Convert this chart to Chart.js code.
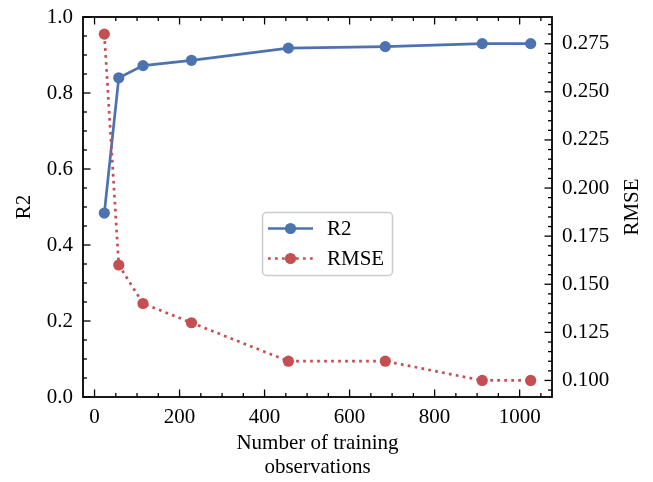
<!DOCTYPE html>
<html>
<head>
<meta charset="utf-8">
<script src="https://cdn.jsdelivr.net/npm/chart.js@4.4.1/dist/chart.umd.min.js"></script>
<style>
  html, body { margin: 0; padding: 0; background: #ffffff; }
  #wrap { width: 653px; height: 482px; }
</style>
</head>
<body>
<div id="wrap"><canvas id="c" width="653" height="482"></canvas></div>
<script>
// ---- data ----
const trainingSizes = [23, 57, 114, 228, 456, 684, 912, 1026];
const r2Values      = [0.484, 0.840, 0.872, 0.886, 0.918, 0.922, 0.930, 0.930];
const rmseValues    = [0.280, 0.160, 0.140, 0.130, 0.110, 0.110, 0.100, 0.100];
const seriesLabels  = ['R2', 'RMSE'];
const xTitle        = ['Number of training', 'observations'];
const yLeftTitle    = 'R2';
const yRightTitle   = 'RMSE';

const FONT = "'Liberation Serif', 'Times New Roman', serif";
const FS = 21;
const BLUE = '#4C72B0';
const RED = '#C44E52';

const toPts = (xs, ys) => xs.map((x, i) => ({ x: x, y: ys[i] }));

// inward ticks + frame
const framePlugin = {
  id: 'frame',
  afterDraw(chart) {
    const ctx = chart.ctx;
    const a = chart.chartArea;
    const sx = chart.scales.x, sy = chart.scales.y, sy2 = chart.scales.y2;
    ctx.save();
    ctx.strokeStyle = '#000';
    const MAJ = 7.5, MIN = 4;
    ctx.lineWidth = 1.3;
    const tick = (x1, y1, x2, y2) => { ctx.beginPath(); ctx.moveTo(x1, y1); ctx.lineTo(x2, y2); ctx.stroke(); };
    // x ticks bottom & top
    const xmin = sx.min, xmax = sx.max;
    for (let v = Math.ceil(xmin / 50) * 50; v <= xmax; v += 50) {
      const px = sx.getPixelForValue(v);
      const len = (Math.round(v) % 200 === 0) ? MAJ : MIN;
      tick(px, a.bottom, px, a.bottom - len);
      tick(px, a.top, px, a.top + len);
    }
    // left y ticks
    for (let k = 0; k <= 20; k++) {
      const v = k * 0.05;
      if (v < sy.min - 1e-9 || v > sy.max + 1e-9) continue;
      const py = sy.getPixelForValue(v);
      const len = (k % 4 === 0) ? MAJ : MIN;
      tick(a.left, py, a.left + len, py);
    }
    // right y ticks
    for (let k = Math.ceil(sy2.min / 0.005 - 1e-6); k * 0.005 <= sy2.max + 1e-9; k++) {
      const v = k * 0.005;
      const py = sy2.getPixelForValue(v);
      const len = (k % 5 === 0) ? MAJ : MIN;
      tick(a.right, py, a.right - len, py);
    }
    // frame
    ctx.lineWidth = 1.8;
    ctx.strokeRect(a.left, a.top, a.right - a.left, a.bottom - a.top);

    // right axis title (reads bottom-to-top like the reference)
    ctx.fillStyle = '#000';
    ctx.font = FS + 'px ' + FONT;
    ctx.textAlign = 'center';
    ctx.textBaseline = 'middle';
    ctx.translate(632, (a.top + a.bottom) / 2);
    ctx.rotate(-Math.PI / 2);
    ctx.fillText(yRightTitle, 0, 0);
    ctx.restore();

    // legend
    ctx.save();
    const lx = 262.5, ly = 212.5, lw = 130, lh = 63, r = 4;
    ctx.beginPath();
    ctx.moveTo(lx + r, ly);
    ctx.arcTo(lx + lw, ly, lx + lw, ly + lh, r);
    ctx.arcTo(lx + lw, ly + lh, lx, ly + lh, r);
    ctx.arcTo(lx, ly + lh, lx, ly, r);
    ctx.arcTo(lx, ly, lx + lw, ly, r);
    ctx.closePath();
    ctx.fillStyle = 'rgba(255,255,255,0.8)';
    ctx.fill();
    ctx.strokeStyle = '#cccccc';
    ctx.lineWidth = 1.5;
    ctx.stroke();
    const rows = [ly + 16, ly + 46];
    chart.data.datasets.forEach((ds, i) => {
      const y = rows[i];
      ctx.strokeStyle = ds.borderColor;
      ctx.lineWidth = ds.borderWidth;
      ctx.setLineDash(ds.borderDash || []);
      ctx.beginPath(); ctx.moveTo(268, y); ctx.lineTo(313, y); ctx.stroke();
      ctx.setLineDash([]);
      ctx.fillStyle = ds.pointBackgroundColor;
      ctx.beginPath(); ctx.arc(290.5, y, ds.pointRadius, 0, Math.PI * 2); ctx.fill();
      ctx.fillStyle = '#000';
      ctx.font = FS + 'px ' + FONT;
      ctx.textAlign = 'left';
      ctx.textBaseline = 'middle';
      ctx.fillText(ds.label, 327, y + 1);
    });
    ctx.restore();
  }
};

const fixPad = s => { s.paddingTop = 0; s.paddingBottom = 0; s.paddingLeft = 0; s.paddingRight = 0; };

new Chart(document.getElementById('c'), {
  type: 'line',
  data: {
    datasets: [
      {
        label: seriesLabels[0],
        data: toPts(trainingSizes, r2Values),
        yAxisID: 'y',
        borderColor: BLUE,
        backgroundColor: BLUE,
        pointBackgroundColor: BLUE,
        pointBorderWidth: 0,
        pointRadius: 5.6,
        borderWidth: 2.7,
        tension: 0,
        order: 1
      },
      {
        label: seriesLabels[1],
        data: toPts(trainingSizes, rmseValues),
        yAxisID: 'y2',
        borderColor: RED,
        backgroundColor: RED,
        pointBackgroundColor: RED,
        pointBorderWidth: 0,
        pointRadius: 5.6,
        borderWidth: 2.7,
        borderDash: [2.7, 4.3],
        tension: 0,
        order: 0
      }
    ]
  },
  options: {
    responsive: false,
    animation: false,
    devicePixelRatio: 1,
    layout: { padding: { top: 17, left: 0, right: 0, bottom: 0 } },
    plugins: { legend: { display: false }, tooltip: { enabled: false } },
    elements: { point: { borderWidth: 0 } },
    scales: {
      x: {
        type: 'linear',
        min: -27.15,
        max: 1076.15,
        grid: { display: false, drawTicks: false },
        border: { display: false },
        ticks: {
          stepSize: 200,
          includeBounds: false,
          color: '#000',
          padding: 8,
          maxRotation: 0,
          font: { family: FONT, size: FS },
          callback: v => String(Math.round(v))
        },
        title: {
          display: true,
          text: xTitle,
          color: '#000',
          font: { family: FONT, size: FS, lineHeight: 1.15 },
          padding: { top: 0, bottom: 2 }
        },
        afterFit: s => { s.height = 85; fixPad(s); }
      },
      y: {
        type: 'linear',
        position: 'left',
        min: 0,
        max: 1,
        grid: { display: false, drawTicks: false },
        border: { display: false },
        ticks: {
          stepSize: 0.2,
          includeBounds: false,
          color: '#000',
          padding: 10,
          font: { family: FONT, size: FS },
          callback: v => Number(v).toFixed(1)
        },
        title: {
          display: true,
          text: yLeftTitle,
          color: '#000',
          font: { family: FONT, size: FS, lineHeight: 1.15 },
          padding: { top: 12, bottom: 0 }
        },
        afterFit: s => { s.width = 83; fixPad(s); }
      },
      y2: {
        type: 'linear',
        position: 'right',
        min: 0.0914,
        max: 0.2889,
        grid: { display: false, drawTicks: false },
        border: { display: false },
        ticks: {
          stepSize: 0.025,
          includeBounds: false,
          color: '#000',
          padding: 10,
          font: { family: FONT, size: FS },
          callback: v => Number(v).toFixed(3)
        },
        afterFit: s => { s.width = 101; fixPad(s); }
      }
    }
  },
  plugins: [framePlugin]
});
</script>
</body>
</html>
